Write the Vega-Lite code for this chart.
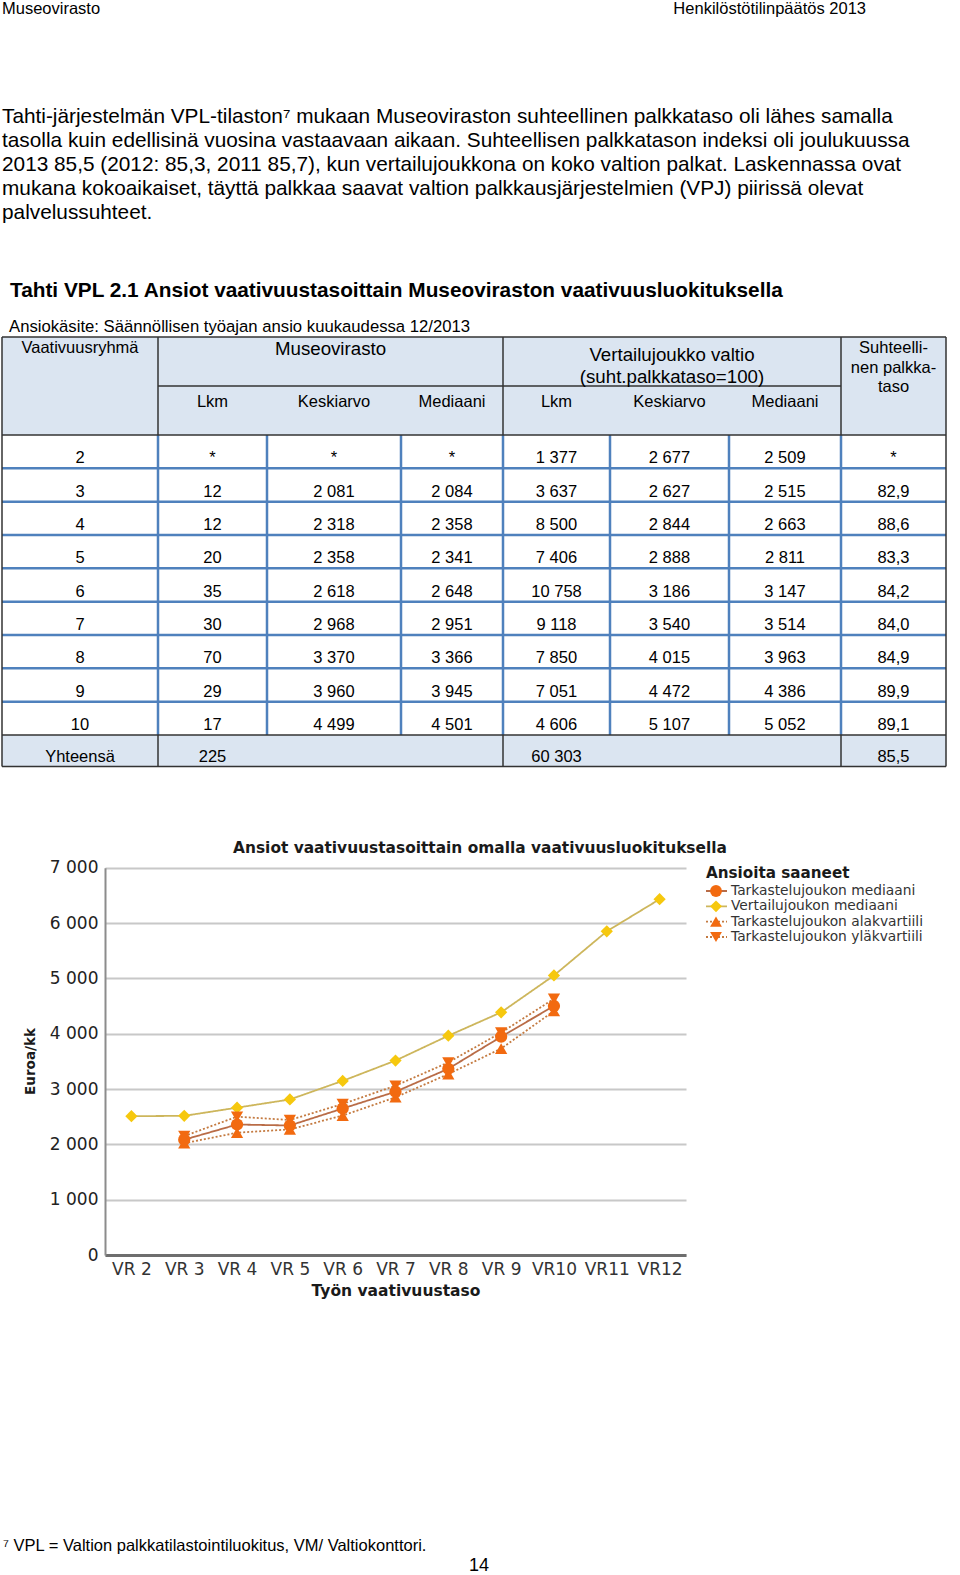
{
  "$schema": "https://vega.github.io/schema/vega-lite/v6.json",
  "width": 960,
  "height": 1575,
  "autosize": {"type": "none"},
  "padding": 0,
  "background": "#ffffff",
  "config": {
    "view": {"stroke": null},
    "font": "Liberation Sans",
    "text": {"color": "#000000"}
  },
  "resolve": {"scale": {"x": "independent", "y": "independent"}, "axis": {"x": "independent", "y": "independent"}},
  "layer": [
    {"data": {"values": [{"t": "Museovirasto"}]}, "mark": {"type": "text", "x": 2, "y": 14, "align": "left", "baseline": "alphabetic", "fontSize": 16.5}, "encoding": {"text": {"field": "t"}}},
    {"data": {"values": [{"t": "Henkilöstötilinpäätös 2013"}]}, "mark": {"type": "text", "x": 866, "y": 14, "align": "right", "baseline": "alphabetic", "fontSize": 16.5}, "encoding": {"text": {"field": "t"}}},
    {"data": {"values": [{}]}, "mark": {"type": "rule", "x": 2, "x2": 953, "y": 34, "stroke": "#B3C5DE", "strokeWidth": 2}, "encoding": {}},
    {"data": {"values": [{}]}, "mark": {"type": "rule", "x": 2, "x2": 953, "y": 36, "stroke": "#7392BF", "strokeWidth": 2}, "encoding": {}},
    {
      "data": {"values": [
        {"rivi": 1, "t": "Tahti-järjestelmän VPL-tilaston⁷ mukaan Museoviraston suhteellinen palkkataso oli lähes samalla"},
        {"rivi": 2, "t": "tasolla kuin edellisinä vuosina vastaavaan aikaan. Suhteellisen palkkatason indeksi oli joulukuussa"},
        {"rivi": 3, "t": "2013 85,5 (2012: 85,3, 2011 85,7), kun vertailujoukkona on koko valtion palkat. Laskennassa ovat"},
        {"rivi": 4, "t": "mukana kokoaikaiset, täyttä palkkaa saavat valtion palkkausjärjestelmien (VPJ) piirissä olevat"},
        {"rivi": 5, "t": "palvelussuhteet."}
      ]},
      "mark": {"type": "text", "x": 2, "align": "left", "baseline": "alphabetic", "fontSize": 20.8},
      "encoding": {
        "y": {"field": "rivi", "type": "quantitative", "scale": {"domain": [1, 5], "range": [122.5, 219], "zero": false, "nice": false}, "axis": null},
        "text": {"field": "t"}
      }
    },
    {"data": {"values": [{"t": "Tahti VPL 2.1 Ansiot vaativuustasoittain Museoviraston vaativuusluokituksella"}]}, "mark": {"type": "text", "x": 10, "y": 297, "align": "left", "baseline": "alphabetic", "fontSize": 20.8, "fontWeight": "bold"}, "encoding": {"text": {"field": "t"}}},
    {"data": {"values": [{"t": "Ansiokäsite: Säännöllisen työajan ansio kuukaudessa 12/2013"}]}, "mark": {"type": "text", "x": 9, "y": 332, "align": "left", "baseline": "alphabetic", "fontSize": 16.7}, "encoding": {"text": {"field": "t"}}},
    {
      "data": {"values": [{"y0": 0, "y1": 2}, {"y0": 11, "y1": 12}]},
      "mark": {"type": "rect", "fill": "#DBE5F1"},
      "encoding": {
        "x": {"datum": 0, "type": "quantitative", "scale": {"domain": [0, 1, 2, 3, 4, 5, 6, 7, 8], "range": [2, 158, 267, 401, 503, 610, 729, 841, 946], "zero": false, "nice": false}, "axis": null},
        "x2": {"datum": 8},
        "y": {"field": "y0", "type": "quantitative", "scale": {"domain": [0, 1, 2, 11, 12], "range": [337, 386, 435, 735, 766.5], "zero": false, "nice": false}, "axis": null},
        "y2": {"field": "y1"}
      }
    },
    {
      "data": {"values": [
        {"x0": 0, "x1": 8, "y0": 3, "y1": 3}, {"x0": 0, "x1": 8, "y0": 4, "y1": 4}, {"x0": 0, "x1": 8, "y0": 5, "y1": 5}, {"x0": 0, "x1": 8, "y0": 6, "y1": 6},
        {"x0": 0, "x1": 8, "y0": 7, "y1": 7}, {"x0": 0, "x1": 8, "y0": 8, "y1": 8}, {"x0": 0, "x1": 8, "y0": 9, "y1": 9}, {"x0": 0, "x1": 8, "y0": 10, "y1": 10},
        {"x0": 1, "x1": 1, "y0": 2, "y1": 11}, {"x0": 2, "x1": 2, "y0": 2, "y1": 11}, {"x0": 3, "x1": 3, "y0": 2, "y1": 11}, {"x0": 4, "x1": 4, "y0": 2, "y1": 11},
        {"x0": 5, "x1": 5, "y0": 2, "y1": 11}, {"x0": 6, "x1": 6, "y0": 2, "y1": 11}, {"x0": 7, "x1": 7, "y0": 2, "y1": 11}
      ]},
      "mark": {"type": "rule", "stroke": "#4F81BD", "strokeWidth": 2.5},
      "encoding": {
        "x": {"field": "x0", "type": "quantitative", "scale": {"domain": [0, 1, 2, 3, 4, 5, 6, 7, 8], "range": [2, 158, 267, 401, 503, 610, 729, 841, 946], "zero": false, "nice": false}, "axis": null},
        "x2": {"field": "x1"},
        "y": {"field": "y0", "type": "quantitative", "scale": {"domain": [0, 1, 2, 11, 12], "range": [337, 386, 435, 735, 766.5], "zero": false, "nice": false}, "axis": null},
        "y2": {"field": "y1"}
      }
    },
    {
      "data": {"values": [
        {"x0": 0, "x1": 8, "y0": 0, "y1": 0}, {"x0": 1, "x1": 7, "y0": 1, "y1": 1}, {"x0": 0, "x1": 8, "y0": 2, "y1": 2},
        {"x0": 0, "x1": 8, "y0": 11, "y1": 11}, {"x0": 0, "x1": 8, "y0": 12, "y1": 12},
        {"x0": 0, "x1": 0, "y0": 0, "y1": 12}, {"x0": 8, "x1": 8, "y0": 0, "y1": 12},
        {"x0": 1, "x1": 1, "y0": 0, "y1": 2}, {"x0": 4, "x1": 4, "y0": 0, "y1": 2}, {"x0": 7, "x1": 7, "y0": 0, "y1": 2},
        {"x0": 1, "x1": 1, "y0": 11, "y1": 12}, {"x0": 4, "x1": 4, "y0": 11, "y1": 12}, {"x0": 7, "x1": 7, "y0": 11, "y1": 12}
      ]},
      "mark": {"type": "rule", "stroke": "#333333", "strokeWidth": 1.5},
      "encoding": {
        "x": {"field": "x0", "type": "quantitative", "scale": {"domain": [0, 1, 2, 3, 4, 5, 6, 7, 8], "range": [2, 158, 267, 401, 503, 610, 729, 841, 946], "zero": false, "nice": false}, "axis": null},
        "x2": {"field": "x1"},
        "y": {"field": "y0", "type": "quantitative", "scale": {"domain": [0, 1, 2, 11, 12], "range": [337, 386, 435, 735, 766.5], "zero": false, "nice": false}, "axis": null},
        "y2": {"field": "y1"}
      }
    },
    {
      "data": {"values": [
        {"t": "Museovirasto", "ryhma": 0, "r": 0},
        {"t": "Vertailujoukko valtio", "ryhma": 1, "r": 1},
        {"t": "(suht.palkkataso=100)", "ryhma": 1, "r": 2}
      ]},
      "mark": {"type": "text", "align": "center", "baseline": "alphabetic", "fontSize": 18.7},
      "encoding": {
        "x": {"field": "ryhma", "type": "quantitative", "scale": {"domain": [0, 1], "range": [330.5, 672], "zero": false, "nice": false}, "axis": null},
        "y": {"field": "r", "type": "quantitative", "scale": {"domain": [0, 1, 2], "range": [355.3, 360.5, 382.5], "zero": false, "nice": false}, "axis": null},
        "text": {"field": "t"}
      }
    },
    {
      "data": {"values": [
        {"t": "Vaativuusryhmä", "s": 0.5, "r": 0},
        {"t": "Suhteelli-", "s": 7.5, "r": 0},
        {"t": "nen palkka-", "s": 7.5, "r": 2},
        {"t": "taso", "s": 7.5, "r": 4},
        {"t": "Lkm", "s": 1.5, "r": 5},
        {"t": "Keskiarvo", "s": 2.5, "r": 5},
        {"t": "Mediaani", "s": 3.5, "r": 5},
        {"t": "Lkm", "s": 4.5, "r": 5},
        {"t": "Keskiarvo", "s": 5.5, "r": 5},
        {"t": "Mediaani", "s": 6.5, "r": 5}
      ]},
      "mark": {"type": "text", "align": "center", "baseline": "alphabetic", "fontSize": 16.5},
      "encoding": {
        "x": {"field": "s", "type": "quantitative", "scale": {"domain": [0, 1, 2, 3, 4, 5, 6, 7, 8], "range": [2, 158, 267, 401, 503, 610, 729, 841, 946], "zero": false, "nice": false}, "axis": null},
        "y": {"field": "r", "type": "quantitative", "scale": {"domain": [0, 4, 5], "range": [353, 392, 406.5], "zero": false, "nice": false}, "axis": null},
        "text": {"field": "t"}
      }
    },
    {
      "data": {"values": [
        {"r": 0, "c": 0, "v": "2"}, {"r": 0, "c": 1, "v": "*"}, {"r": 0, "c": 2, "v": "*"}, {"r": 0, "c": 3, "v": "*"}, {"r": 0, "c": 4, "v": "1 377"}, {"r": 0, "c": 5, "v": "2 677"}, {"r": 0, "c": 6, "v": "2 509"}, {"r": 0, "c": 7, "v": "*"},
        {"r": 1, "c": 0, "v": "3"}, {"r": 1, "c": 1, "v": "12"}, {"r": 1, "c": 2, "v": "2 081"}, {"r": 1, "c": 3, "v": "2 084"}, {"r": 1, "c": 4, "v": "3 637"}, {"r": 1, "c": 5, "v": "2 627"}, {"r": 1, "c": 6, "v": "2 515"}, {"r": 1, "c": 7, "v": "82,9"},
        {"r": 2, "c": 0, "v": "4"}, {"r": 2, "c": 1, "v": "12"}, {"r": 2, "c": 2, "v": "2 318"}, {"r": 2, "c": 3, "v": "2 358"}, {"r": 2, "c": 4, "v": "8 500"}, {"r": 2, "c": 5, "v": "2 844"}, {"r": 2, "c": 6, "v": "2 663"}, {"r": 2, "c": 7, "v": "88,6"},
        {"r": 3, "c": 0, "v": "5"}, {"r": 3, "c": 1, "v": "20"}, {"r": 3, "c": 2, "v": "2 358"}, {"r": 3, "c": 3, "v": "2 341"}, {"r": 3, "c": 4, "v": "7 406"}, {"r": 3, "c": 5, "v": "2 888"}, {"r": 3, "c": 6, "v": "2 811"}, {"r": 3, "c": 7, "v": "83,3"},
        {"r": 4, "c": 0, "v": "6"}, {"r": 4, "c": 1, "v": "35"}, {"r": 4, "c": 2, "v": "2 618"}, {"r": 4, "c": 3, "v": "2 648"}, {"r": 4, "c": 4, "v": "10 758"}, {"r": 4, "c": 5, "v": "3 186"}, {"r": 4, "c": 6, "v": "3 147"}, {"r": 4, "c": 7, "v": "84,2"},
        {"r": 5, "c": 0, "v": "7"}, {"r": 5, "c": 1, "v": "30"}, {"r": 5, "c": 2, "v": "2 968"}, {"r": 5, "c": 3, "v": "2 951"}, {"r": 5, "c": 4, "v": "9 118"}, {"r": 5, "c": 5, "v": "3 540"}, {"r": 5, "c": 6, "v": "3 514"}, {"r": 5, "c": 7, "v": "84,0"},
        {"r": 6, "c": 0, "v": "8"}, {"r": 6, "c": 1, "v": "70"}, {"r": 6, "c": 2, "v": "3 370"}, {"r": 6, "c": 3, "v": "3 366"}, {"r": 6, "c": 4, "v": "7 850"}, {"r": 6, "c": 5, "v": "4 015"}, {"r": 6, "c": 6, "v": "3 963"}, {"r": 6, "c": 7, "v": "84,9"},
        {"r": 7, "c": 0, "v": "9"}, {"r": 7, "c": 1, "v": "29"}, {"r": 7, "c": 2, "v": "3 960"}, {"r": 7, "c": 3, "v": "3 945"}, {"r": 7, "c": 4, "v": "7 051"}, {"r": 7, "c": 5, "v": "4 472"}, {"r": 7, "c": 6, "v": "4 386"}, {"r": 7, "c": 7, "v": "89,9"},
        {"r": 8, "c": 0, "v": "10"}, {"r": 8, "c": 1, "v": "17"}, {"r": 8, "c": 2, "v": "4 499"}, {"r": 8, "c": 3, "v": "4 501"}, {"r": 8, "c": 4, "v": "4 606"}, {"r": 8, "c": 5, "v": "5 107"}, {"r": 8, "c": 6, "v": "5 052"}, {"r": 8, "c": 7, "v": "89,1"},
        {"r": 9, "c": 0, "v": "Yhteensä"}, {"r": 9, "c": 1, "v": "225"}, {"r": 9, "c": 4, "v": "60 303"}, {"r": 9, "c": 7, "v": "85,5"}
      ]},
      "mark": {"type": "text", "align": "center", "baseline": "alphabetic", "fontSize": 16.5},
      "encoding": {
        "x": {"field": "c", "type": "quantitative", "scale": {"domain": [0, 1, 2, 3, 4, 5, 6, 7], "range": [80, 212.5, 334, 452, 556.5, 669.5, 785, 893.5], "zero": false, "nice": false}, "axis": null},
        "y": {"field": "r", "type": "quantitative", "scale": {"domain": [0, 8, 9], "range": [463.3, 730, 761.7], "zero": false, "nice": false}, "axis": null},
        "text": {"field": "v"}
      }
    },
    {"data": {"values": [{"t": "Ansiot vaativuustasoittain omalla vaativuusluokituksella"}]}, "mark": {"type": "text", "x": 480, "y": 852.5, "align": "center", "baseline": "alphabetic", "font": "DejaVu Sans", "fontSize": 15.4, "fontWeight": "bold", "color": "#1A1A1A"}, "encoding": {"text": {"field": "t"}}},
    {
      "data": {"values": [
        {"vr": "VR 2", "sarja": "Vertailujoukon mediaani", "arvo": 2509},
        {"vr": "VR 3", "sarja": "Vertailujoukon mediaani", "arvo": 2515},
        {"vr": "VR 4", "sarja": "Vertailujoukon mediaani", "arvo": 2663},
        {"vr": "VR 5", "sarja": "Vertailujoukon mediaani", "arvo": 2811},
        {"vr": "VR 6", "sarja": "Vertailujoukon mediaani", "arvo": 3147},
        {"vr": "VR 7", "sarja": "Vertailujoukon mediaani", "arvo": 3514},
        {"vr": "VR 8", "sarja": "Vertailujoukon mediaani", "arvo": 3963},
        {"vr": "VR 9", "sarja": "Vertailujoukon mediaani", "arvo": 4386},
        {"vr": "VR10", "sarja": "Vertailujoukon mediaani", "arvo": 5052},
        {"vr": "VR11", "sarja": "Vertailujoukon mediaani", "arvo": 5850},
        {"vr": "VR12", "sarja": "Vertailujoukon mediaani", "arvo": 6430},
        {"vr": "VR 3", "sarja": "Tarkastelujoukon alakvartiili", "arvo": 2020},
        {"vr": "VR 4", "sarja": "Tarkastelujoukon alakvartiili", "arvo": 2210},
        {"vr": "VR 5", "sarja": "Tarkastelujoukon alakvartiili", "arvo": 2270},
        {"vr": "VR 6", "sarja": "Tarkastelujoukon alakvartiili", "arvo": 2520},
        {"vr": "VR 7", "sarja": "Tarkastelujoukon alakvartiili", "arvo": 2850},
        {"vr": "VR 8", "sarja": "Tarkastelujoukon alakvartiili", "arvo": 3270},
        {"vr": "VR 9", "sarja": "Tarkastelujoukon alakvartiili", "arvo": 3730},
        {"vr": "VR10", "sarja": "Tarkastelujoukon alakvartiili", "arvo": 4410},
        {"vr": "VR 3", "sarja": "Tarkastelujoukon yläkvartiili", "arvo": 2150},
        {"vr": "VR 4", "sarja": "Tarkastelujoukon yläkvartiili", "arvo": 2500},
        {"vr": "VR 5", "sarja": "Tarkastelujoukon yläkvartiili", "arvo": 2440},
        {"vr": "VR 6", "sarja": "Tarkastelujoukon yläkvartiili", "arvo": 2730},
        {"vr": "VR 7", "sarja": "Tarkastelujoukon yläkvartiili", "arvo": 3060},
        {"vr": "VR 8", "sarja": "Tarkastelujoukon yläkvartiili", "arvo": 3480},
        {"vr": "VR 9", "sarja": "Tarkastelujoukon yläkvartiili", "arvo": 4020},
        {"vr": "VR10", "sarja": "Tarkastelujoukon yläkvartiili", "arvo": 4630},
        {"vr": "VR 3", "sarja": "Tarkastelujoukon mediaani", "arvo": 2084},
        {"vr": "VR 4", "sarja": "Tarkastelujoukon mediaani", "arvo": 2358},
        {"vr": "VR 5", "sarja": "Tarkastelujoukon mediaani", "arvo": 2341},
        {"vr": "VR 6", "sarja": "Tarkastelujoukon mediaani", "arvo": 2648},
        {"vr": "VR 7", "sarja": "Tarkastelujoukon mediaani", "arvo": 2951},
        {"vr": "VR 8", "sarja": "Tarkastelujoukon mediaani", "arvo": 3366},
        {"vr": "VR 9", "sarja": "Tarkastelujoukon mediaani", "arvo": 3945},
        {"vr": "VR10", "sarja": "Tarkastelujoukon mediaani", "arvo": 4501}
      ]},
      "encoding": {
        "x": {
          "field": "vr", "type": "nominal",
          "scale": {"type": "point", "domain": ["VR 2", "VR 3", "VR 4", "VR 5", "VR 6", "VR 7", "VR 8", "VR 9", "VR10", "VR11", "VR12"], "range": [105, 686], "padding": 0.5},
          "axis": {"orient": "bottom", "offset": -320, "labelFont": "DejaVu Sans", "labelFontSize": 17, "labelColor": "#333333", "labelPadding": 6, "labelAngle": 0, "ticks": false, "domain": true, "domainColor": "#6E6E6E", "domainWidth": 3, "grid": false, "title": "Työn vaativuustaso", "titleFont": "DejaVu Sans", "titleFontSize": 15.5, "titleFontWeight": "bold", "titleColor": "#1A1A1A", "titleX": 395.5, "titleY": 28, "titleBaseline": "top", "titleAlign": "center"}
        },
        "y": {
          "field": "arvo", "type": "quantitative",
          "scale": {"domain": [0, 7000], "range": [1255, 867.7], "nice": false, "zero": true},
          "axis": {"orient": "left", "offset": -105, "values": [0, 1000, 2000, 3000, 4000, 5000, 6000, 7000], "labelExpr": "replace(format(datum.value, ','), ',', ' ')", "labelFont": "DejaVu Sans", "labelFontSize": 17, "labelColor": "#222222", "labelPadding": 7, "ticks": false, "domain": true, "domainColor": "#8C8C8C", "domainWidth": 2, "grid": true, "gridColor": "#C8C8C8", "gridWidth": 1.8, "title": "Euroa/kk", "titleFont": "DejaVu Sans", "titleFontSize": 13.5, "titleFontWeight": "bold", "titleColor": "#1A1A1A", "titleAngle": -90, "titleX": -71, "titleY": 1061, "titleAlign": "center", "titleBaseline": "alphabetic", "labelOverlap": false}
        }
      },
      "layer": [
        {
          "mark": {"type": "line", "strokeWidth": 1.8},
          "encoding": {
            "stroke": {"field": "sarja", "type": "nominal", "scale": {"domain": ["Tarkastelujoukon mediaani", "Vertailujoukon mediaani", "Tarkastelujoukon alakvartiili", "Tarkastelujoukon yläkvartiili"], "range": ["#B96C47", "#CDB65C", "#C47A40", "#C47A40"]}, "legend": null},
            "strokeDash": {"field": "sarja", "type": "nominal", "scale": {"domain": ["Tarkastelujoukon mediaani", "Vertailujoukon mediaani", "Tarkastelujoukon alakvartiili", "Tarkastelujoukon yläkvartiili"], "range": [[1, 0], [1, 0], [2, 2], [2, 2]]}, "legend": null}
          }
        },
        {
          "mark": {"type": "point", "filled": true, "opacity": 1, "size": 150, "strokeWidth": 0},
          "encoding": {
            "color": {"field": "sarja", "type": "nominal", "scale": {"domain": ["Tarkastelujoukon mediaani", "Vertailujoukon mediaani", "Tarkastelujoukon alakvartiili", "Tarkastelujoukon yläkvartiili"], "range": ["#F26A10", "#F6C80E", "#F26A10", "#F26A10"]}, "legend": null},
            "shape": {"field": "sarja", "type": "nominal", "scale": {"domain": ["Tarkastelujoukon mediaani", "Vertailujoukon mediaani", "Tarkastelujoukon alakvartiili", "Tarkastelujoukon yläkvartiili"], "range": ["circle", "diamond", "triangle-up", "triangle-down"]}, "legend": null}
          }
        }
      ]
    },
    {"data": {"values": [{"t": "Ansioita saaneet"}]}, "mark": {"type": "text", "x": 706, "y": 878, "align": "left", "baseline": "alphabetic", "font": "DejaVu Sans", "fontSize": 15.2, "fontWeight": "bold", "color": "#1A1A1A"}, "encoding": {"text": {"field": "t"}}},
    {
      "data": {"values": [
        {"sarja": "Tarkastelujoukon mediaani"},
        {"sarja": "Vertailujoukon mediaani"},
        {"sarja": "Tarkastelujoukon alakvartiili"},
        {"sarja": "Tarkastelujoukon yläkvartiili"}
      ]},
      "layer": [
        {
          "mark": {"type": "rule", "x": 706, "x2": 727, "strokeWidth": 1.8},
          "encoding": {
            "y": {"field": "sarja", "type": "nominal", "sort": null, "scale": {"type": "point", "domain": ["Tarkastelujoukon mediaani", "Vertailujoukon mediaani", "Tarkastelujoukon alakvartiili", "Tarkastelujoukon yläkvartiili"], "range": [891, 937], "padding": 0}, "axis": null},
            "stroke": {"field": "sarja", "type": "nominal", "legend": null},
            "strokeDash": {"field": "sarja", "type": "nominal", "legend": null}
          }
        },
        {
          "mark": {"type": "point", "x": 716, "filled": true, "opacity": 1, "size": 140, "strokeWidth": 0},
          "encoding": {
            "y": {"field": "sarja", "type": "nominal", "sort": null, "scale": {"type": "point", "domain": ["Tarkastelujoukon mediaani", "Vertailujoukon mediaani", "Tarkastelujoukon alakvartiili", "Tarkastelujoukon yläkvartiili"], "range": [891, 937], "padding": 0}, "axis": null},
            "color": {"field": "sarja", "type": "nominal", "legend": null},
            "shape": {"field": "sarja", "type": "nominal", "legend": null}
          }
        },
        {
          "mark": {"type": "text", "x": 731, "align": "left", "baseline": "middle", "font": "DejaVu Sans", "fontSize": 13.8, "color": "#333333"},
          "encoding": {
            "y": {"field": "sarja", "type": "nominal", "sort": null, "scale": {"type": "point", "domain": ["Tarkastelujoukon mediaani", "Vertailujoukon mediaani", "Tarkastelujoukon alakvartiili", "Tarkastelujoukon yläkvartiili"], "range": [891, 937], "padding": 0}, "axis": null},
            "text": {"field": "sarja"}
          }
        }
      ]
    },
    {"data": {"values": [{}]}, "mark": {"type": "rule", "x": 2, "x2": 301, "y": 1521, "stroke": "#000000", "strokeWidth": 1}, "encoding": {}},
    {"data": {"values": [{"t": "⁷ VPL = Valtion palkkatilastointiluokitus, VM/ Valtiokonttori."}]}, "mark": {"type": "text", "x": 3, "y": 1551, "align": "left", "baseline": "alphabetic", "fontSize": 16.5}, "encoding": {"text": {"field": "t"}}},
    {"data": {"values": [{"t": "14"}]}, "mark": {"type": "text", "x": 479, "y": 1571, "align": "center", "baseline": "alphabetic", "fontSize": 18}, "encoding": {"text": {"field": "t"}}}
  ]
}
